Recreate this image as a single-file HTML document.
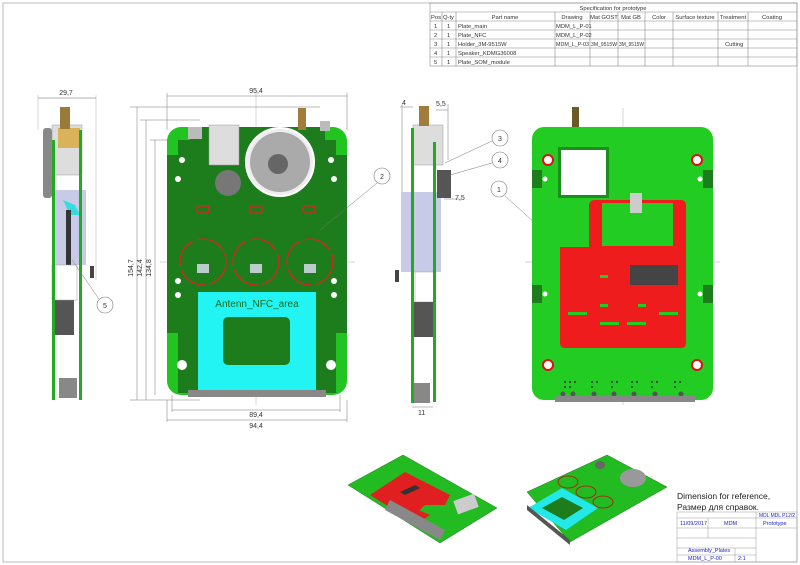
<!DOCTYPE html>
<html><head><meta charset="utf-8"><style>
html,body{margin:0;padding:0;background:#fff}
svg{display:block}
text{font-family:"Liberation Sans","DejaVu Sans",sans-serif}
</style></head><body>
<svg width="800" height="565" viewBox="0 0 800 565" xmlns="http://www.w3.org/2000/svg">
<rect x="0" y="0" width="800" height="565" fill="#fff"/>
<rect x="3" y="3" width="794" height="559" fill="none" stroke="#bbb" stroke-width="1"/>
<g stroke="#888" stroke-width="0.6" fill="none">
<rect x="430" y="3" width="367" height="63"/>
<line x1="430" y1="12" x2="797" y2="12"/>
<line x1="430" y1="21" x2="797" y2="21"/>
<line x1="430" y1="30" x2="797" y2="30"/>
<line x1="430" y1="39" x2="797" y2="39"/>
<line x1="430" y1="48" x2="797" y2="48"/>
<line x1="430" y1="57" x2="797" y2="57"/>
<line x1="442" y1="12" x2="442" y2="66"/>
<line x1="456" y1="12" x2="456" y2="66"/>
<line x1="555" y1="12" x2="555" y2="66"/>
<line x1="590" y1="12" x2="590" y2="66"/>
<line x1="618" y1="12" x2="618" y2="66"/>
<line x1="645" y1="12" x2="645" y2="66"/>
<line x1="673" y1="12" x2="673" y2="66"/>
<line x1="718" y1="12" x2="718" y2="66"/>
<line x1="748" y1="12" x2="748" y2="66"/>
</g>
<g font-size="5.8" fill="#333">
<text x="613" y="10" text-anchor="middle">Specification for prototype</text>
<text x="431" y="19">Pos</text><text x="443" y="19">Q-ty</text><text x="505" y="19" text-anchor="middle">Part name</text>
<text x="572" y="19" text-anchor="middle">Drawing</text><text x="604" y="19" text-anchor="middle">Mat GOST</text><text x="631" y="19" text-anchor="middle">Mat GB</text>
<text x="659" y="19" text-anchor="middle">Color</text><text x="695" y="19" text-anchor="middle">Surface texture</text><text x="733" y="19" text-anchor="middle">Treatment</text><text x="772" y="19" text-anchor="middle">Coating</text>
<text x="434" y="28">1</text><text x="447" y="28">1</text><text x="458" y="28">Plate_main</text><text x="556" y="28">MDM_L_P-01</text>
<text x="434" y="37">2</text><text x="447" y="37">1</text><text x="458" y="37">Plate_NFC</text><text x="556" y="37">MDM_L_P-02</text>
<text x="434" y="46">3</text><text x="447" y="46">1</text><text x="458" y="46">Holder_3M-9515W</text><text x="556" y="46" textLength="33" lengthAdjust="spacingAndGlyphs">MDM_L_P-03</text><text x="591" y="46" textLength="26" lengthAdjust="spacingAndGlyphs">3M_9515W</text><text x="619" y="46" textLength="25" lengthAdjust="spacingAndGlyphs">3M_9515W</text><text x="725" y="46">Cutting</text>
<text x="434" y="55">4</text><text x="447" y="55">1</text><text x="458" y="55">Speaker_KDMG36008</text>
<text x="434" y="64">5</text><text x="447" y="64">1</text><text x="458" y="64">Plate_SOM_module</text>
</g>

<!-- LEFT SIDE VIEW -->
<g>
<line x1="38" y1="98" x2="96" y2="98" stroke="#666" stroke-width="0.5"/>
<line x1="38" y1="95" x2="38" y2="130" stroke="#999" stroke-width="0.4"/>
<line x1="96" y1="95" x2="96" y2="280" stroke="#999" stroke-width="0.4"/>
<text x="66" y="95" font-size="7" text-anchor="middle" fill="#333">29,7</text>
<rect x="43" y="128" width="9" height="70" rx="3" fill="#888"/>
<rect x="52" y="125" width="30" height="50" fill="#ddd" stroke="#999" stroke-width="0.5"/>
<rect x="58" y="128" width="22" height="20" fill="#d9b25a"/>
<rect x="60" y="107" width="10" height="22" fill="#9a7a3a"/>
<rect x="54" y="190" width="32" height="75" fill="#c8cbe8"/>
<path d="M63 200 L75 205 L80 215 L70 215 Z" fill="#3dd"/>
<rect x="66" y="210" width="5" height="55" fill="#333"/>
<rect x="54" y="300" width="20" height="35" fill="#555"/>
<rect x="52" y="265" width="25" height="35" fill="#fff" stroke="#999" stroke-width="0.5"/>
<rect x="59" y="378" width="18" height="20" fill="#888"/>
<rect x="52" y="140" width="3" height="260" fill="#22aa22"/>
<rect x="79" y="130" width="3" height="270" fill="#22aa22"/>
<rect x="90" y="266" width="4" height="12" fill="#444"/>
<circle cx="105" cy="305" r="8" fill="#fff" stroke="#777" stroke-width="0.6"/>
<text x="105" y="308" font-size="7" text-anchor="middle" fill="#333">5</text>
<line x1="99" y1="299" x2="72" y2="260" stroke="#777" stroke-width="0.5"/>
</g>

<g stroke="#777" stroke-width="0.5" fill="none">
<line x1="167" y1="96" x2="347" y2="96"/>
<line x1="167" y1="93" x2="167" y2="130"/><line x1="347" y1="93" x2="347" y2="130"/>
<line x1="137" y1="107" x2="137" y2="400"/>
<line x1="146" y1="120" x2="146" y2="400"/>
<line x1="155" y1="140" x2="155" y2="395"/>
<line x1="130" y1="107" x2="320" y2="107"/>
<line x1="140" y1="120" x2="200" y2="120"/>
<line x1="150" y1="140" x2="190" y2="140"/>
<line x1="130" y1="400" x2="200" y2="400"/>
<line x1="172" y1="410" x2="340" y2="410"/>
<line x1="167" y1="420" x2="347" y2="420"/>
<line x1="172" y1="395" x2="172" y2="412"/><line x1="340" y1="395" x2="340" y2="412"/>
<line x1="167" y1="400" x2="167" y2="422"/><line x1="347" y1="400" x2="347" y2="422"/>
<line x1="256" y1="90" x2="256" y2="405" stroke="#999" stroke-width="0.4"/>
<line x1="160" y1="262" x2="355" y2="262" stroke="#999" stroke-width="0.4"/>
</g>
<text x="256" y="93" font-size="7" text-anchor="middle" fill="#333">95,4</text>
<text x="256" y="417" font-size="7" text-anchor="middle" fill="#333">89,4</text>
<text x="256" y="428" font-size="7" text-anchor="middle" fill="#333">94,4</text>
<text transform="translate(133,268) rotate(-90)" font-size="7" text-anchor="middle" fill="#333">154,7</text>
<text transform="translate(142,268) rotate(-90)" font-size="7" text-anchor="middle" fill="#333">142,4</text>
<text transform="translate(151,268) rotate(-90)" font-size="7" text-anchor="middle" fill="#333">134,8</text>

<rect x="167" y="127" width="180" height="268" rx="14" fill="#22c422"/>
<rect x="178" y="140" width="158" height="253" fill="#1d7d1d"/>
<rect x="167" y="155" width="12" height="178" fill="#1d7d1d"/>
<rect x="335" y="155" width="12" height="178" fill="#1d7d1d"/>
<rect x="190" y="127" width="135" height="15" fill="#1d7d1d"/>
<rect x="209" y="125" width="30" height="40" fill="#ddd" stroke="#999" stroke-width="0.5"/>
<rect x="188" y="127" width="14" height="12" fill="#bbb"/>
<rect x="298" y="108" width="8" height="22" fill="#a07d3a"/>
<rect x="320" y="121" width="10" height="10" fill="#bbb"/>
<circle cx="280" cy="162" r="34" fill="#eee" stroke="#fff" stroke-width="2"/>
<circle cx="280" cy="162" r="30" fill="#aaa"/>
<circle cx="278" cy="164" r="10" fill="#666"/>
<circle cx="228" cy="183" r="13" fill="#777"/>
<g fill="#fff"><circle cx="182" cy="160" r="3"/><circle cx="331" cy="160" r="3"/><circle cx="178" cy="179" r="3"/><circle cx="334" cy="179" r="3"/><circle cx="178" cy="281" r="3"/><circle cx="334" cy="281" r="3"/><circle cx="178" cy="295" r="3"/><circle cx="334" cy="295" r="3"/><circle cx="182" cy="365" r="5"/><circle cx="331" cy="365" r="5"/></g>
<g fill="none" stroke="#e02020" stroke-width="1.3">
<rect x="197" y="206" width="12" height="7" rx="2"/><rect x="250" y="206" width="12" height="7" rx="2"/><rect x="303" y="206" width="12" height="7" rx="2"/>
<circle cx="203" cy="262" r="23" stroke-dasharray="30 4"/><circle cx="256" cy="262" r="23" stroke-dasharray="30 4"/><circle cx="310" cy="262" r="23" stroke-dasharray="30 4"/>
</g>
<g fill="#bcc">
<rect x="197" y="264" width="12" height="9"/><rect x="250" y="264" width="12" height="9"/><rect x="304" y="264" width="12" height="9"/>
</g>
<rect x="198" y="292" width="118" height="98" fill="#22f4f4"/>
<rect x="223" y="317" width="67" height="48" rx="5" fill="#1d7d1d"/>
<text x="257" y="307" font-size="10" text-anchor="middle" fill="#1a6a1a">Antenn_NFC_area</text>
<rect x="188" y="390" width="138" height="7" fill="#888"/>
<circle cx="382" cy="176" r="8" fill="#fff" stroke="#777" stroke-width="0.6"/>
<text x="382" y="179" font-size="7" text-anchor="middle" fill="#333">2</text>
<line x1="377" y1="183" x2="320" y2="230" stroke="#777" stroke-width="0.5"/>

<g stroke="#777" stroke-width="0.5">
<line x1="400" y1="107" x2="413" y2="107"/><line x1="436" y1="110" x2="448" y2="110"/>
<line x1="402" y1="104" x2="402" y2="195"/><line x1="448" y1="104" x2="448" y2="160"/>
<line x1="412" y1="407" x2="433" y2="407"/><line x1="444" y1="199" x2="462" y2="199"/>
</g>
<text x="402" y="105" font-size="7" fill="#333">4</text>
<text x="436" y="106" font-size="7" fill="#333">5,5</text>
<text x="455" y="200" font-size="7" fill="#333">7,5</text>
<text x="418" y="415" font-size="7" fill="#333">11</text>
<rect x="413" y="125" width="30" height="40" fill="#ddd" stroke="#999" stroke-width="0.5"/>
<rect x="419" y="106" width="10" height="20" fill="#a07d3a"/>
<rect x="401" y="192" width="40" height="80" fill="#c8cbe8"/>
<rect x="415" y="272" width="20" height="30" fill="#fff" stroke="#999" stroke-width="0.5"/>
<rect x="414" y="302" width="20" height="35" fill="#555"/>
<rect x="437" y="170" width="14" height="28" fill="#555"/>
<rect x="412" y="383" width="18" height="20" fill="#888"/>
<rect x="411" y="128" width="3" height="275" fill="#22aa22"/>
<rect x="433" y="142" width="3" height="260" fill="#22aa22"/>
<rect x="395" y="270" width="4" height="12" fill="#444"/>
<g fill="#fff" stroke="#777" stroke-width="0.6">
<circle cx="500" cy="138" r="8"/><circle cx="500" cy="160" r="8"/><circle cx="499" cy="189" r="8"/>
</g>
<g font-size="7" text-anchor="middle" fill="#333"><text x="500" y="141">3</text><text x="500" y="163">4</text><text x="499" y="192">1</text></g>
<g stroke="#777" stroke-width="0.5"><line x1="492" y1="141" x2="445" y2="163"/><line x1="492" y1="163" x2="450" y2="175"/><line x1="505" y1="196" x2="545" y2="232"/></g>

<line x1="623" y1="108" x2="623" y2="405" stroke="#999" stroke-width="0.4"/>
<line x1="525" y1="262" x2="720" y2="262" stroke="#999" stroke-width="0.4"/>
<rect x="572" y="107" width="7" height="22" fill="#6a5a2a"/>
<rect x="532" y="127" width="181" height="273" rx="12" fill="#22cc22"/>
<rect x="532" y="170" width="10" height="18" fill="#1d7d1d"/><rect x="703" y="170" width="10" height="18" fill="#1d7d1d"/>
<rect x="532" y="285" width="10" height="18" fill="#1d7d1d"/><rect x="703" y="285" width="10" height="18" fill="#1d7d1d"/>
<rect x="558" y="147" width="51" height="51" fill="#1d8d1d"/>
<rect x="561" y="150" width="45" height="45" fill="#fff"/>
<path d="M589 206 Q589 200 595 200 L681 200 Q686 200 686 206 L686 343 Q686 348 681 348 L565 348 Q560 348 560 343 L560 247 L589 247 Z" fill="#ee1c1c"/>
<rect x="602" y="203" width="71" height="43" fill="#22cc22"/>
<rect x="630" y="193" width="12" height="20" fill="#ccc"/>
<rect x="630" y="265" width="48" height="20" fill="#444"/>
<g fill="#22cc22"><rect x="600" y="275" width="8" height="3"/><rect x="600" y="304" width="8" height="3"/><rect x="638" y="304" width="8" height="3"/><rect x="568" y="312" width="19" height="3"/><rect x="659" y="312" width="19" height="3"/><rect x="600" y="322" width="19" height="3"/><rect x="627" y="322" width="19" height="3"/></g>
<g fill="#fff" stroke="#e01010" stroke-width="2"><circle cx="548" cy="160" r="5"/><circle cx="697" cy="160" r="5"/><circle cx="548" cy="365" r="5"/><circle cx="697" cy="365" r="5"/></g>
<g fill="#fff"><circle cx="545" cy="179" r="2.5"/><circle cx="700" cy="179" r="2.5"/><circle cx="545" cy="294" r="2.5"/><circle cx="700" cy="294" r="2.5"/></g>
<g fill="#333"><circle cx="565" cy="382" r="1"/><circle cx="570" cy="382" r="1"/><circle cx="575" cy="382" r="1"/><circle cx="592" cy="382" r="1"/><circle cx="597" cy="382" r="1"/><circle cx="612" cy="382" r="1"/><circle cx="617" cy="382" r="1"/><circle cx="632" cy="382" r="1"/><circle cx="637" cy="382" r="1"/><circle cx="652" cy="382" r="1"/><circle cx="657" cy="382" r="1"/><circle cx="675" cy="382" r="1"/><circle cx="680" cy="382" r="1"/><circle cx="565" cy="387" r="1"/><circle cx="570" cy="387" r="1"/><circle cx="592" cy="387" r="1"/><circle cx="612" cy="387" r="1"/><circle cx="632" cy="387" r="1"/><circle cx="652" cy="387" r="1"/><circle cx="675" cy="387" r="1"/></g>
<g fill="#555"><circle cx="563" cy="394" r="2.5"/><circle cx="573" cy="394" r="2.5"/><circle cx="594" cy="394" r="2.5"/><circle cx="614" cy="394" r="2.5"/><circle cx="634" cy="394" r="2.5"/><circle cx="655" cy="394" r="2.5"/><circle cx="681" cy="394" r="2.5"/></g>
<rect x="555" y="396" width="140" height="6" fill="#888"/>

<!-- ISO LEFT -->
<polygon points="348,485 403,455 497,508 440,543" fill="#22bb22" stroke="#1a7a1a" stroke-width="0.5"/>
<polygon points="370,495 405,472 450,495 445,505 425,505 410,520" fill="#e02020"/>
<polygon points="395,500 430,515 420,522 390,508" fill="#e02020"/>
<rect x="455" y="497" width="22" height="14" fill="#ccc" transform="rotate(-20 466 504)"/>
<polygon points="385,510 440,540 445,530 390,500" fill="#888"/>
<polygon points="400,492 415,485 420,488 405,495" fill="#333"/>
<!-- ISO RIGHT -->
<polygon points="527,492 607,455 667,487 570,542" fill="#22bb22" stroke="#1a7a1a" stroke-width="0.5"/>
<polygon points="528,508 562,488 598,508 566,530" fill="#22e8e8"/>
<polygon points="542,508 562,497 583,508 564,520" fill="#1d7d1d"/>
<polygon points="527,505 570,540 570,545 527,510" fill="#555"/>
<ellipse cx="633" cy="478" rx="13" ry="9" fill="#999"/>
<ellipse cx="600" cy="465" rx="5" ry="4" fill="#666"/>
<g fill="none" stroke="#c01010" stroke-width="0.8"><ellipse cx="568" cy="482" rx="10" ry="6"/><ellipse cx="586" cy="492" rx="10" ry="6"/><ellipse cx="603" cy="502" rx="10" ry="6"/></g>

<text x="677" y="499" font-size="8.5" fill="#222">Dimension for reference,</text>
<text x="677" y="510" font-size="8.5" fill="#222">Размер для справок.</text>
<g stroke="#999" stroke-width="0.5" fill="none">
<rect x="677" y="512" width="120" height="50"/>
<line x1="677" y1="518" x2="797" y2="518"/>
<line x1="677" y1="528" x2="797" y2="528"/>
<line x1="677" y1="538" x2="756" y2="538"/>
<line x1="677" y1="548" x2="756" y2="548"/>
<line x1="756" y1="512" x2="756" y2="562"/>
<line x1="708" y1="518" x2="708" y2="538"/>
<line x1="735" y1="548" x2="735" y2="562"/>
<line x1="677" y1="555" x2="756" y2="555"/>
</g>
<g font-size="5.5" fill="#22c">
<text x="759" y="517" textLength="36" lengthAdjust="spacingAndGlyphs">MDL MDL P12/2</text>
<text x="680" y="525">11/09/2017</text>
<text x="724" y="525">MDM</text>
<text x="763" y="525">Prototype</text>
<text x="688" y="552">Assembly_Plates</text>
<text x="688" y="560">MDM_L_P-00</text>
<text x="738" y="560">2:1</text>
</g>
</svg>
</body></html>
